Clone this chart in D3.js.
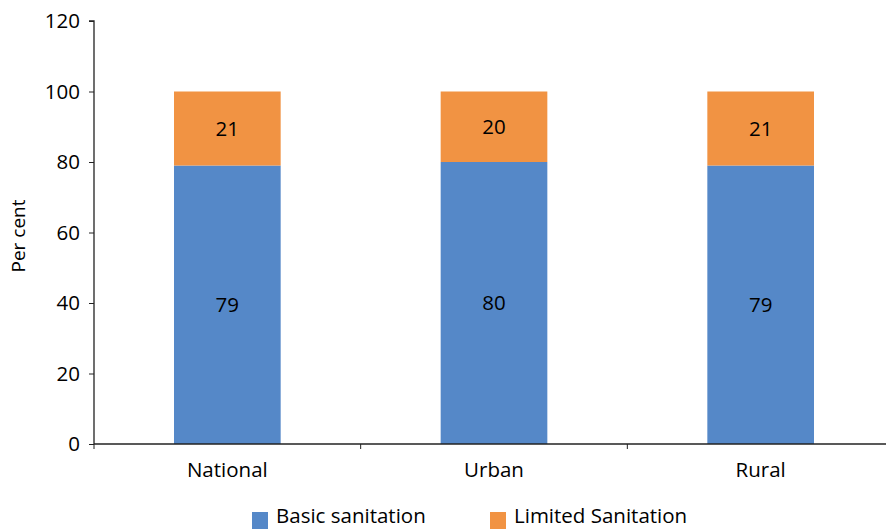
<!DOCTYPE html>
<html><head><meta charset="utf-8">
<script src="https://cdn.jsdelivr.net/npm/d3@7"></script>
<style>body{margin:0;background:#fff}svg{display:block}text{font-family:"Open Sans","Noto Sans",sans-serif;fill:#000}</style>
</head><body><svg id="c" width="886" height="529"></svg>
<script>
const categories = ["National", "Urban", "Rural"];
const basic = [79, 80, 79];
const limited = [21, 20, 21];
const seriesNames = ["Basic sanitation", "Limited Sanitation"];
const yTicks = [0, 20, 40, 60, 80, 100, 120];
const colors = ["#5588c8", "#f19343"];

(function () {
const svg = d3.select("#c");
const mLeft = 94, mRight = 894, mTop = 21, mBottom = 444;
const fs = "20.5px";
const x = d3.scaleBand().domain(categories).range([mLeft, mRight]).paddingInner(0).paddingOuter(0);
const y = d3.scaleLinear().domain([0, 120]).range([mBottom, mTop]);

const data = categories.map((c, i) => ({cat: c, basic: basic[i], limited: limited[i]}));
const stack = d3.stack().keys(["basic", "limited"])(data);
const bw = x.bandwidth() * 0.4;

const g = svg.append("g");
stack.forEach((layer, li) => {
  g.selectAll(null).data(layer).enter().append("rect")
    .attr("x", d => x(d.data.cat) + (x.bandwidth() - bw) / 2)
    .attr("width", bw)
    .attr("y", d => y(d[1]))
    .attr("height", d => y(d[0]) - y(d[1]))
    .attr("fill", colors[li]);
  g.selectAll(null).data(layer).enter().append("text")
    .attr("x", d => x(d.data.cat) + x.bandwidth() / 2)
    .attr("y", d => (y(d[0]) + y(d[1])) / 2)
    .attr("dy", "0.35em")
    .attr("text-anchor", "middle")
    .style("font-size", fs)
    .text(d => d[1] - d[0]);
});

// y axis
const ya = svg.append("g").attr("transform", `translate(${mLeft},0)`)
  .call(d3.axisLeft(y).tickValues(yTicks).tickSize(5).tickPadding(9));
ya.select(".domain").attr("stroke", "#222").attr("stroke-width", 1.3).attr("d", `M-5,${mTop}H0V${mBottom}`);
ya.selectAll(".tick line").attr("stroke", "#222");
ya.selectAll(".tick text").style("font-size", fs).style("font-family", '"Open Sans","Noto Sans",sans-serif').attr("fill", "#000");

// x axis
const xa = svg.append("g").attr("transform", `translate(0,${mBottom})`);
xa.append("line").attr("x1", mLeft).attr("x2", mRight).attr("y1", 0).attr("y2", 0).attr("stroke", "#222").attr("stroke-width", 1.3);
const bounds = [mLeft].concat(categories.map(c => x(c) + x.bandwidth()));
xa.selectAll(null).data(bounds).enter().append("line")
  .attr("x1", d => d).attr("x2", d => d).attr("y1", 0).attr("y2", 5).attr("stroke", "#222");
xa.selectAll(null).data(categories).enter().append("text")
  .attr("x", d => x(d) + x.bandwidth() / 2).attr("y", 33)
  .attr("text-anchor", "middle").style("font-size", fs).text(d => d);

// y label
svg.append("text").attr("transform", "translate(25,236) rotate(-90)")
  .attr("text-anchor", "middle").style("font-size", "19px").text("Per cent");

// legend
const legX = [252, 490];
seriesNames.forEach((n, i) => {
  svg.append("rect").attr("x", legX[i]).attr("y", 512).attr("width", 16).attr("height", 17).attr("fill", colors[i]);
  svg.append("text").attr("x", legX[i] + 24).attr("y", 523).style("font-size", fs).text(n);
});
})();
</script></body></html>
